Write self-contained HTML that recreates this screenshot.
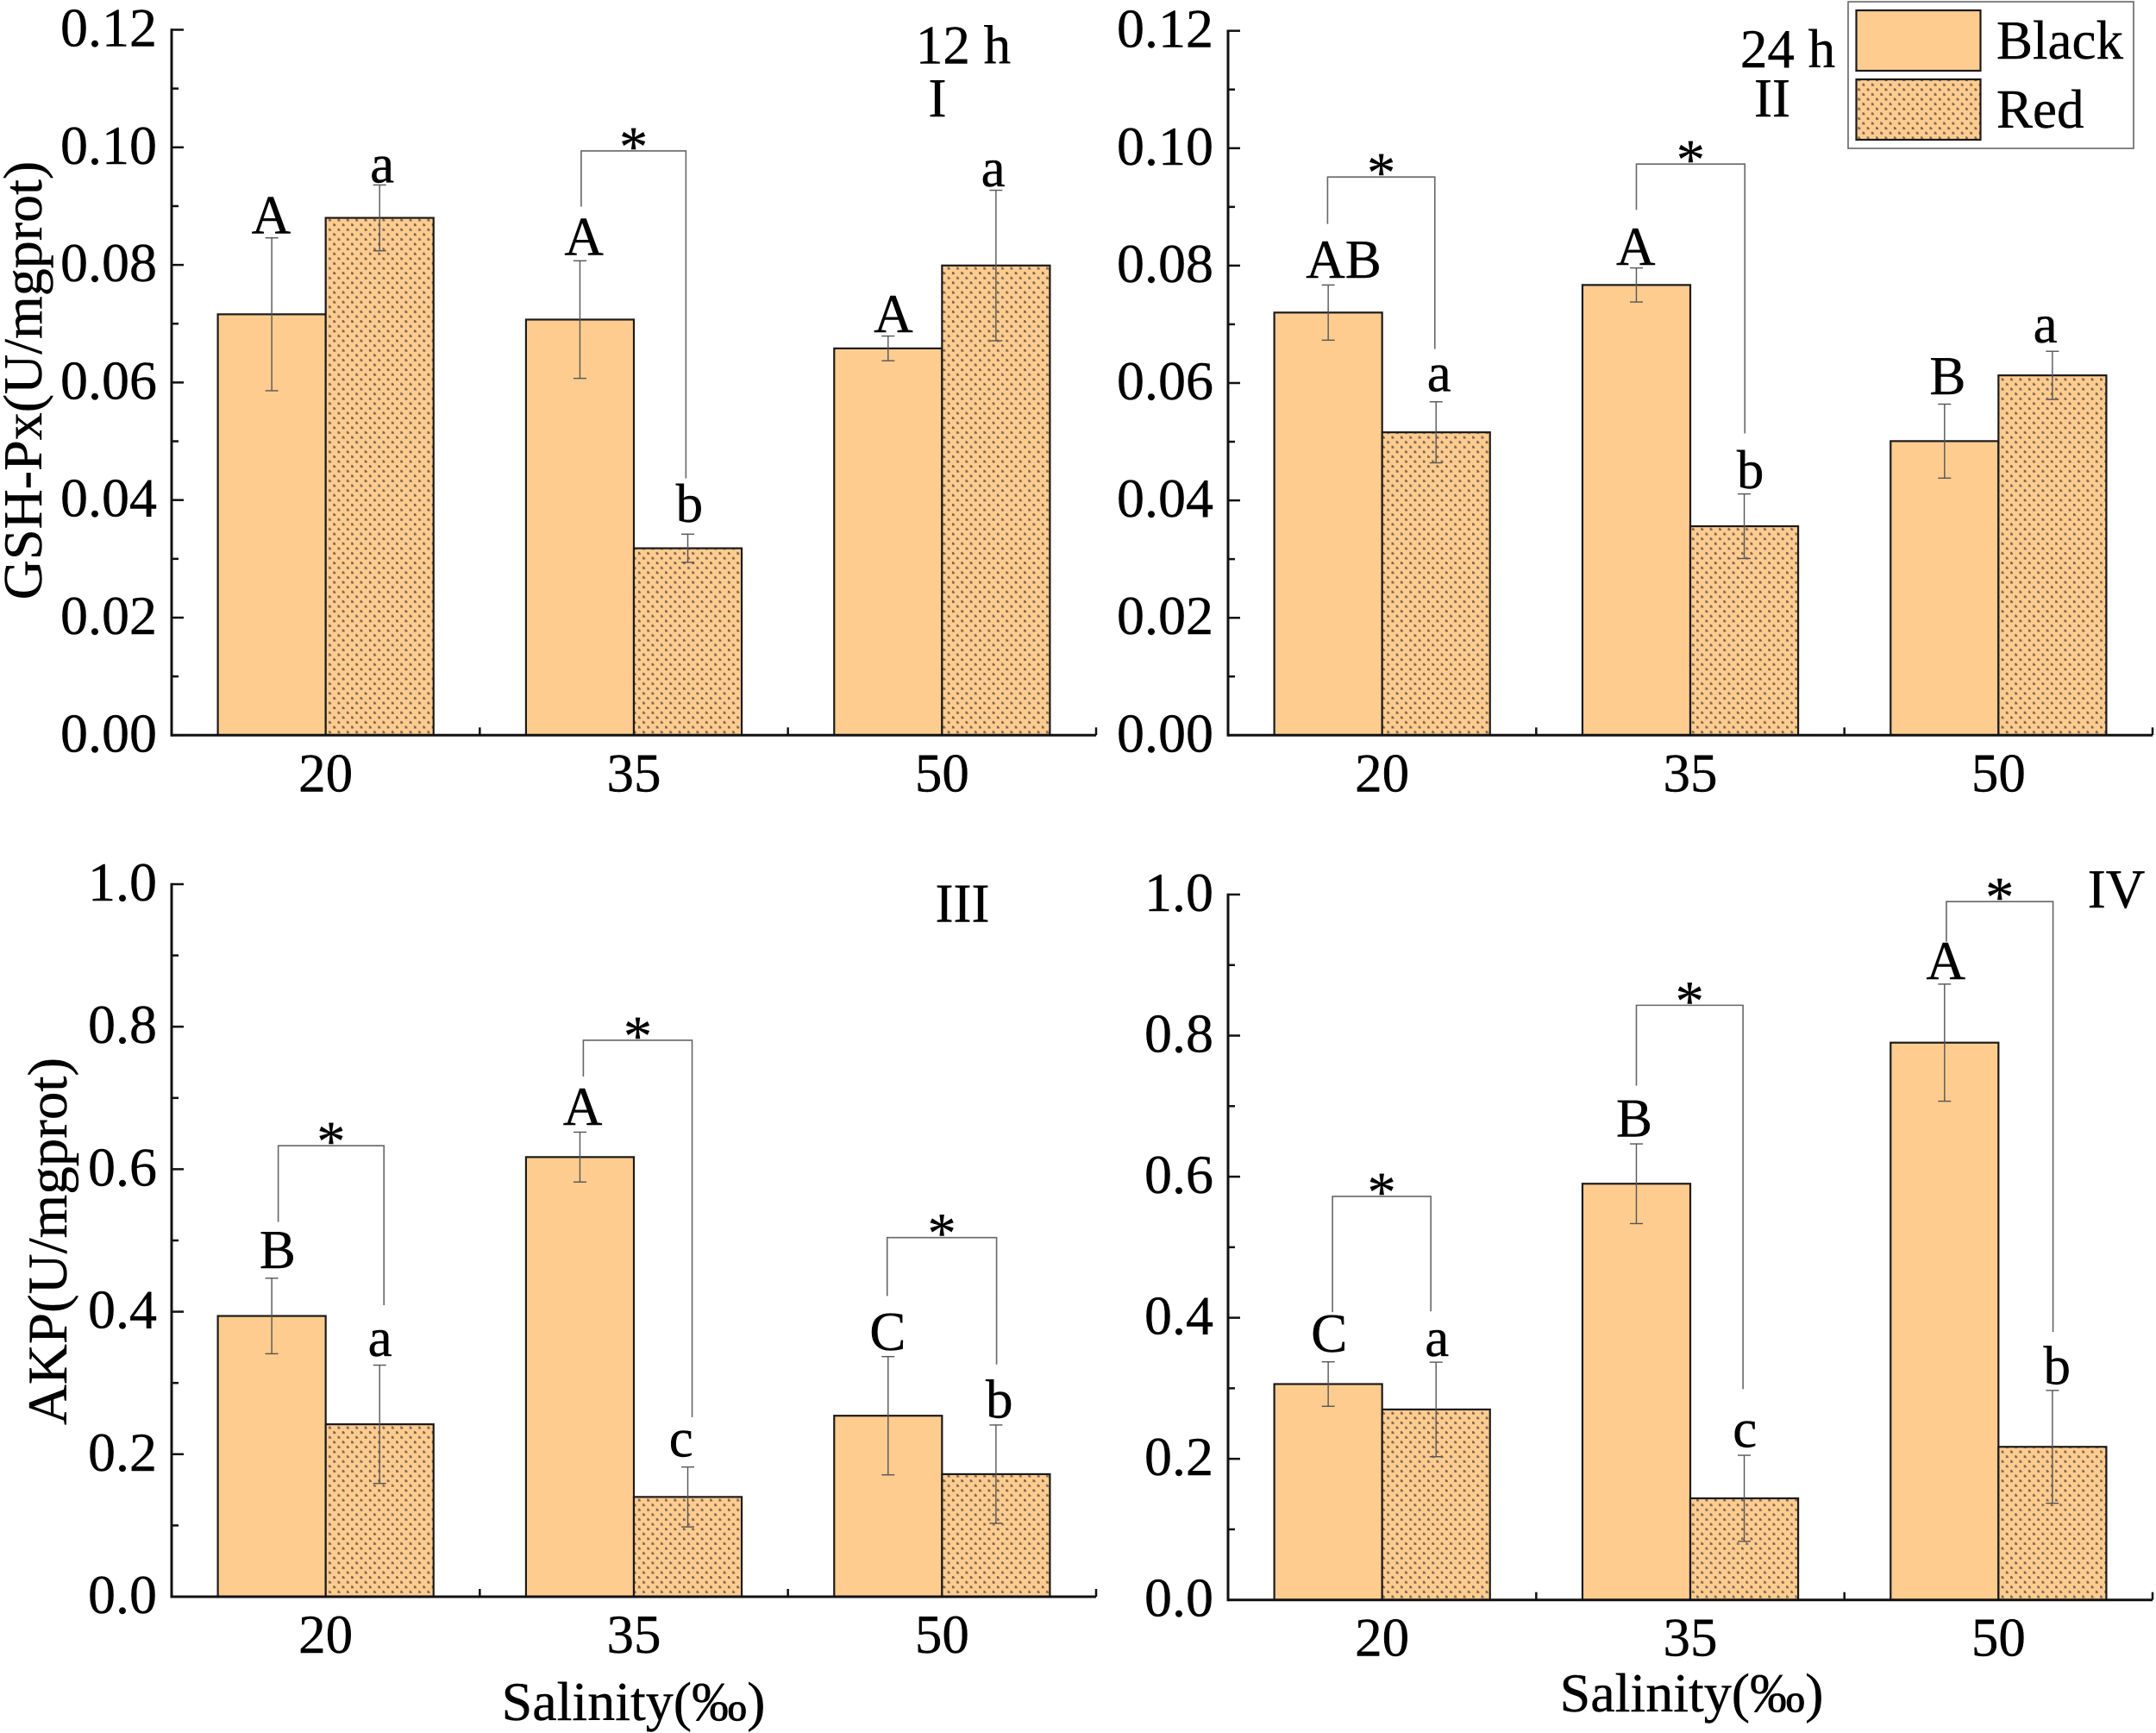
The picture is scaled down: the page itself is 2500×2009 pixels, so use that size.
<!DOCTYPE html>
<html lang="en">
<head>
<meta charset="utf-8">
<title>GSH-Px and AKP activity by salinity</title>
<style>
  html, body { margin: 0; padding: 0; background: #fff; }
  svg { display: block; }
  text { font-family: "Liberation Serif", "Times New Roman", serif; fill: #000; stroke: #000; stroke-width: 0.4; }
</style>
</head>
<body>
<svg id="chart" xmlns="http://www.w3.org/2000/svg" width="2500" height="2009" viewBox="0 0 2500 2009">
  <defs>
    <pattern id="dots" patternUnits="userSpaceOnUse" width="10.4" height="11.2">
      <rect width="10.4" height="11.2" fill="#ffcc90"></rect>
      <path d="M1.5 1.5h2v1h1v2h-3z M6.7 7.1h2v1h1v2h-3z" fill="#7b6650"></path>
    </pattern>
  </defs>
  <g id="plots"></g>
  <g>
    <rect x="2143" y="2" width="331" height="170" fill="#fff" stroke="#666" stroke-width="1.6"></rect>
    <rect x="2152.5" y="12" width="144" height="70" fill="#ffcc90" stroke="#1a1a1a" stroke-width="2.2"></rect>
    <text x="2315" y="68" font-size="63">Black</text>
    <rect x="2152.5" y="92" width="144" height="70" fill="url(#dots)" stroke="#1a1a1a" stroke-width="2.2"></rect>
    <text x="2315" y="148" font-size="63">Red</text>
  </g>
</svg>
<script>
const categories = ['20', '35', '50'];
const gshTicks = [0, 0.02, 0.04, 0.06, 0.08, 0.10, 0.12];
const gshTickLabels = ['0.00', '0.02', '0.04', '0.06', '0.08', '0.10', '0.12'];
const akpTicks = [0, 0.2, 0.4, 0.6, 0.8, 1.0];
const akpTickLabels = ['0.0', '0.2', '0.4', '0.6', '0.8', '1.0'];

const p1Black = [0.0716, 0.0707, 0.0658];
const p1BlackErr = [0.0130, 0.0100, 0.0021];
const p1Red = [0.0880, 0.0318, 0.0799];
const p1RedErr = [0.0056, 0.0024, 0.0128];
const p1Letters = ['A', 'a', 'A', 'b', 'A', 'a'];
const p1LetterCat = [0.323, 0.683, 1.338, 1.680, 2.342, 2.666];
const p1LetterVal = [0.0854, 0.0940, 0.0817, 0.0363, 0.0686, 0.0934];
const p1BracketLeft = [1.329];
const p1BracketRight = [1.669];
const p1BracketTop = [0.0994];
const p1BracketFootL = [0.0899];
const p1BracketFootR = [0.0437];

const p2Black = [0.0720, 0.0767, 0.0501];
const p2BlackErr = [0.0047, 0.0029, 0.0063];
const p2Red = [0.0516, 0.0356, 0.0613];
const p2RedErr = [0.0052, 0.0055, 0.0041];
const p2Letters = ['AB', 'a', 'A', 'b', 'B', 'a'];
const p2LetterCat = [0.375, 0.685, 1.323, 1.695, 2.335, 2.652];
const p2LetterVal = [0.0779, 0.0586, 0.0801, 0.0421, 0.0581, 0.0669];
const p2BracketLeft = [0.323, 1.325];
const p2BracketRight = [0.671, 1.677];
const p2BracketTop = [0.0951, 0.0973];
const p2BracketFootL = [0.0871, 0.0895];
const p2BracketFootR = [0.0658, 0.0514];

const p3Black = [0.394, 0.617, 0.254];
const p3BlackErr = [0.053, 0.035, 0.083];
const p3Red = [0.242, 0.140, 0.172];
const p3RedErr = [0.083, 0.042, 0.069];
const p3Letters = ['B', 'a', 'A', 'c', 'C', 'b'];
const p3LetterCat = [0.344, 0.676, 1.334, 1.653, 2.324, 2.686];
const p3LetterVal = [0.461, 0.338, 0.662, 0.197, 0.346, 0.251];
const p3BracketLeft = [0.346, 1.336, 2.322];
const p3BracketRight = [0.689, 1.689, 2.677];
const p3BracketTop = [0.633, 0.781, 0.504];
const p3BracketFootL = [0.526, 0.730, 0.422];
const p3BracketFootR = [0.409, 0.252, 0.326];

const p4Black = [0.306, 0.590, 0.790];
const p4BlackErr = [0.0315, 0.0565, 0.083];
const p4Red = [0.270, 0.144, 0.217];
const p4RedErr = [0.067, 0.061, 0.080];
const p4Letters = ['C', 'a', 'B', 'c', 'A', 'b'];
const p4LetterCat = [0.328, 0.678, 1.318, 1.677, 2.329, 2.690];
const p4LetterVal = [0.352, 0.346, 0.657, 0.217, 0.880, 0.306];
const p4BracketLeft = [0.339, 1.325, 2.331];
const p4BracketRight = [0.658, 1.671, 2.677];
const p4BracketTop = [0.572, 0.843, 0.990];
const p4BracketFootL = [0.408, 0.729, 0.933];
const p4BracketFootR = [0.409, 0.299, 0.380];

const SVGNS = 'http://www.w3.org/2000/svg';
const root = document.getElementById('plots');

function make(tag, parent) {
  const el = document.createElementNS(SVGNS, tag);
  parent.appendChild(el);
  return el;
}
function line(parent, x1, y1, x2, y2, color, width) {
  const el = make('line', parent);
  el.setAttribute('x1', x1);
  el.setAttribute('y1', y1);
  el.setAttribute('x2', x2);
  el.setAttribute('y2', y2);
  el.setAttribute('stroke', color);
  el.setAttribute('stroke-width', width);
  return el;
}
function label(parent, x, y, str, size, anchor) {
  const el = make('text', parent);
  el.setAttribute('x', x);
  el.setAttribute('y', y);
  el.setAttribute('font-size', size);
  el.setAttribute('text-anchor', anchor);
  el.textContent = str;
  return el;
}

function drawPanel(p) {
  const g = make('g', root);
  
  

  const xPos = function (u) { return p.left + u * (p.right - p.left) / categories.length; };
  const yPos = function (v) { return p.bottom - v / p.yMax * (p.bottom - p.top); };
  const barW = 0.35 * (p.right - p.left) / categories.length;

  categories.forEach(function (cat, i) {
    const c = xPos(i + 0.5);
    const bb = make('rect', g);
    
    
    bb.setAttribute('x', c - barW);
    bb.setAttribute('y', yPos(p.black[i]));
    bb.setAttribute('width', barW);
    bb.setAttribute('height', yPos(0) - yPos(p.black[i]));
    bb.setAttribute('fill', '#ffcc90');
    bb.setAttribute('stroke', '#1a1a1a');
    bb.setAttribute('stroke-width', '2.2');

    const br = make('rect', g);
    
    
    br.setAttribute('x', c);
    br.setAttribute('y', yPos(p.red[i]));
    br.setAttribute('width', barW);
    br.setAttribute('height', yPos(0) - yPos(p.red[i]));
    br.setAttribute('fill', 'url(#dots)');
    br.setAttribute('stroke', '#1a1a1a');
    br.setAttribute('stroke-width', '2.2');
  });

  categories.forEach(function (cat, i) {
    const c = xPos(i + 0.5);
    [[c - barW / 2, p.black[i], p.blackErr[i], 'black'], [c + barW / 2, p.red[i], p.redErr[i], 'red']].forEach(function (s) {
      const eg = make('g', g);
      
      
      const up = yPos(s[1] + s[2]);
      const lo = yPos(s[1] - s[2]);
      line(eg, s[0], up, s[0], lo, '#555', 1.4);
      line(eg, s[0] - 7.5, up, s[0] + 7.5, up, '#555', 1.4);
      line(eg, s[0] - 7.5, lo, s[0] + 7.5, lo, '#555', 1.4);
    });
  });

  p.letters.forEach(function (str, i) {
    const t = label(g, xPos(p.letterCat[i]), yPos(p.letterVal[i]), str, 63, 'middle');
    
    
  });

  p.bracketLeft.forEach(function (l, i) {
    const xl = xPos(l);
    const xr = xPos(p.bracketRight[i]);
    const yt = yPos(p.bracketTop[i]);
    const br = make('polyline', g);
    
    
    br.setAttribute('points', xl + ',' + yPos(p.bracketFootL[i]) + ' ' + xl + ',' + yt + ' ' + xr + ',' + yt + ' ' + xr + ',' + yPos(p.bracketFootR[i]));
    br.setAttribute('fill', 'none');
    br.setAttribute('stroke', '#666');
    br.setAttribute('stroke-width', '1.6');
    const star = label(g, (xl + xr) / 2, yt + 17, '*', 66, 'middle');
    
    
    star.setAttribute('stroke-width', '1');
  });

  const axes = make('g', g);
  
  
  const yAxis = line(axes, p.left, p.top - 1.2, p.left, p.bottom + 1.5, '#111', 3);
  
  
  const xAxis = line(axes, p.left, p.bottom, p.right, p.bottom, '#111', 3);
  
  

  p.ticks.forEach(function (v, i) {
    const y = yPos(v);
    const tk = line(axes, p.left, y, p.left + 14, y, '#111', 2.5);
    
    
    const tl = label(axes, p.left - 17, y + 19, p.tickLabels[i], 64, 'end');
    
    
    if (i < p.ticks.length - 1) {
      const ym = yPos((v + p.ticks[i + 1]) / 2);
      const mt = line(axes, p.left, ym, p.left + 8, ym, '#111', 2.5);
      
      
    }
  });

  categories.forEach(function (cat, i) {
    const xt = line(axes, xPos(i + 1), p.bottom, xPos(i + 1), p.bottom - 9, '#111', 2.5);
    
    
    const cl = label(axes, xPos(i + 0.5), p.bottom + 65, cat, 63, 'middle');
    
    
  });
}

drawPanel({ id: 'i', left: 199, right: 1271, top: 34.5, bottom: 852.3, yMax: 0.12, ticks: gshTicks, tickLabels: gshTickLabels,
  black: p1Black, blackErr: p1BlackErr, red: p1Red, redErr: p1RedErr, letters: p1Letters, letterCat: p1LetterCat, letterVal: p1LetterVal,
  bracketLeft: p1BracketLeft, bracketRight: p1BracketRight, bracketTop: p1BracketTop, bracketFootL: p1BracketFootL, bracketFootR: p1BracketFootR });
drawPanel({ id: 'ii', left: 1424, right: 2496, top: 35.7, bottom: 852.3, yMax: 0.12, ticks: gshTicks, tickLabels: gshTickLabels,
  black: p2Black, blackErr: p2BlackErr, red: p2Red, redErr: p2RedErr, letters: p2Letters, letterCat: p2LetterCat, letterVal: p2LetterVal,
  bracketLeft: p2BracketLeft, bracketRight: p2BracketRight, bracketTop: p2BracketTop, bracketFootL: p2BracketFootL, bracketFootR: p2BracketFootR });
drawPanel({ id: 'iii', left: 199, right: 1271, top: 1025, bottom: 1851, yMax: 1.0, ticks: akpTicks, tickLabels: akpTickLabels,
  black: p3Black, blackErr: p3BlackErr, red: p3Red, redErr: p3RedErr, letters: p3Letters, letterCat: p3LetterCat, letterVal: p3LetterVal,
  bracketLeft: p3BracketLeft, bracketRight: p3BracketRight, bracketTop: p3BracketTop, bracketFootL: p3BracketFootL, bracketFootR: p3BracketFootR });
drawPanel({ id: 'iv', left: 1424, right: 2496, top: 1037, bottom: 1854.7, yMax: 1.0, ticks: akpTicks, tickLabels: akpTickLabels,
  black: p4Black, blackErr: p4BlackErr, red: p4Red, redErr: p4RedErr, letters: p4Letters, letterCat: p4LetterCat, letterVal: p4LetterVal,
  bracketLeft: p4BracketLeft, bracketRight: p4BracketRight, bracketTop: p4BracketTop, bracketFootL: p4BracketFootL, bracketFootR: p4BracketFootR });
</script>
<script>
(function () {
  const svg = document.getElementById('chart');
  const add = function (x, y, str, size, anchor, rotate) {
    const el = document.createElementNS('http://www.w3.org/2000/svg', 'text');
    el.setAttribute('x', x);
    el.setAttribute('y', y);
    el.setAttribute('font-size', size);
    el.setAttribute('text-anchor', anchor);
    if (rotate) el.setAttribute('transform', 'rotate(-90 ' + x + ' ' + y + ')');
    el.textContent = str;
    svg.appendChild(el);
    return el;
  };
  let t;
  t = add(48, 441, 'GSH-Px(U/mgprot)', 64, 'middle', true);
  
  
  t = add(77, 1439, 'AKP(U/mgprot)', 65, 'middle', true);
  
  
  t = add(734.5, 1994, 'Salinity(‰)', 64, 'middle', false);
  
  
  t = add(1961.5, 1984, 'Salinity(‰)', 64, 'middle', false);
  
  
  t = add(1117, 73.5, '12 h', 63, 'middle', false);
  
  
  t = add(1087, 135, 'I', 63, 'middle', false);
  
  
  t = add(2073, 78, '24 h', 63, 'middle', false);
  
  
  t = add(2055, 135, 'II', 63, 'middle', false);
  
  
  t = add(1116, 1068.6, 'III', 63, 'middle', false);
  
  
  t = add(2454, 1052, 'IV', 63, 'middle', false);
  
  
})();
</script>
</body>
</html>
